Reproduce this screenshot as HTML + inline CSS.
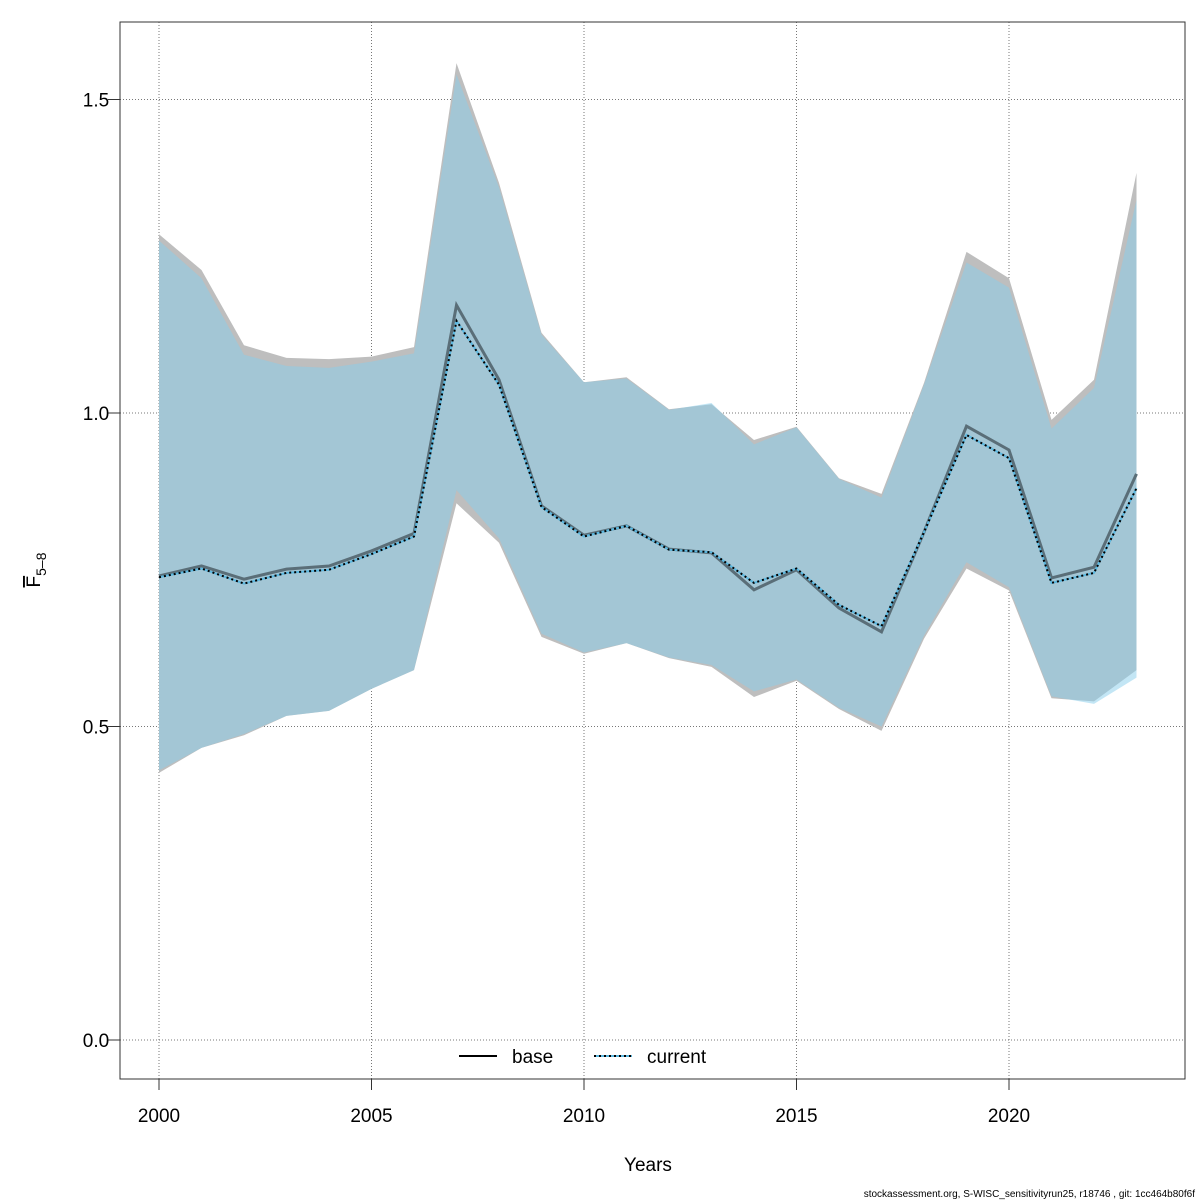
<!DOCTYPE html>
<html><head><meta charset="utf-8"><style>body{margin:0;background:#fff}svg{display:block;font-family:"Liberation Sans",sans-serif}</style></head>
<body>
<svg id="chart" width="1200" height="1200" viewBox="0 0 1200 1200"></svg>
<script>
const years=[2000,2001,2002,2003,2004,2005,2006,2007,2008,2009,2010,2011,2012,2013,2014,2015,2016,2017,2018,2019,2020,2021,2022,2023];
const baseMean=[0.740,0.756,0.735,0.751,0.756,0.780,0.808,1.172,1.053,0.852,0.805,0.820,0.783,0.777,0.718,0.750,0.689,0.651,0.810,0.979,0.941,0.737,0.754,0.903];
const baseUpper=[1.285,1.228,1.108,1.088,1.086,1.090,1.105,1.558,1.367,1.128,1.049,1.057,1.006,1.014,0.957,0.978,0.896,0.871,1.048,1.257,1.215,0.989,1.053,1.383];
const baseLower=[0.426,0.466,0.486,0.517,0.525,0.560,0.590,0.856,0.793,0.643,0.616,0.633,0.609,0.595,0.547,0.573,0.528,0.493,0.640,0.752,0.717,0.545,0.540,0.590];
const curMean=[0.738,0.752,0.728,0.745,0.750,0.775,0.803,1.147,1.045,0.850,0.803,0.820,0.782,0.778,0.729,0.752,0.694,0.660,0.810,0.965,0.928,0.729,0.745,0.880];
const curUpper=[1.275,1.215,1.093,1.075,1.072,1.082,1.095,1.540,1.360,1.125,1.049,1.055,1.005,1.016,0.950,0.977,0.895,0.865,1.045,1.240,1.200,0.975,1.040,1.340];
const curLower=[0.430,0.466,0.488,0.517,0.525,0.560,0.590,0.877,0.800,0.648,0.618,0.633,0.610,0.598,0.556,0.575,0.530,0.500,0.645,0.762,0.722,0.548,0.536,0.578];
const xTicks=[2000,2005,2010,2015,2020];
const yTicks=[0,0.5,1.0,1.5];
const yTickLabels=["0.0","0.5","1.0","1.5"];
const NS="http://www.w3.org/2000/svg";
const svg=document.getElementById('chart');
const X=y=>159+(y-2000)*42.5;
const Y=v=>1040-v*627;
function el(t,a,p){const e=document.createElementNS(NS,t);for(const k in a)e.setAttribute(k,a[k]);(p||svg).appendChild(e);return e;}
// grid
xTicks.forEach(t=>{const g=el('line',{x1:X(t),x2:X(t),y1:22,y2:1079,stroke:'#777','stroke-dasharray':'1,2','stroke-width':1});

});
yTicks.forEach(t=>{const g=el('line',{x1:120,x2:1185,y1:Y(t),y2:Y(t),stroke:'#777','stroke-dasharray':'1,2','stroke-width':1});

});
function band(u,l,fill,name){let d='M'+years.map((y,i)=>X(y)+','+Y(u[i])).join('L');
for(let i=years.length-1;i>=0;i--)d+='L'+X(years[i])+','+Y(l[i]);d+='Z';
const p=el('path',{d:d,fill:fill});

}
band(baseUpper,baseLower,'rgb(190,190,190)','base-ci-band');
band(curUpper,curLower,'rgba(135,206,235,0.5)','current-ci-band');
function line(v,attrs,name){const p=el('polyline',Object.assign({points:years.map((y,i)=>X(y)+','+Y(v[i])).join(' '),fill:'none'},attrs));

}
line(baseMean,{stroke:'#5a6e78','stroke-width':3},'base-line');
line(curMean,{stroke:'#5bb8e0','stroke-width':2},'current-line-under');
line(curMean,{stroke:'#000','stroke-width':2,'stroke-dasharray':'2,3'},'current-line');
// frame
const f=el('rect',{x:120,y:22,width:1065,height:1057,fill:'none',stroke:'#333'});


// ticks
xTicks.forEach(t=>{el('line',{x1:X(t),x2:X(t),y1:1079,y2:1090,stroke:'#333'});
const tx=el('text',{x:X(t),y:1122,'text-anchor':'middle','font-size':19});tx.textContent=t;

});
yTicks.forEach((t,i)=>{el('line',{x1:108,x2:120,y1:Y(t),y2:Y(t),stroke:'#333'});
const tx=el('text',{x:96,y:Y(t)+7,'text-anchor':'middle','font-size':19});tx.textContent=yTickLabels[i];

});
</script>
<svg style="position:absolute;left:0;top:0" width="1200" height="1200">
<text x="648" y="1171" text-anchor="middle" font-size="19" font-family="Liberation Sans">Years</text>
<text transform="translate(40,570) rotate(-90)" font-size="19" font-family="Liberation Sans" text-anchor="middle"><tspan style="text-decoration:overline">F</tspan><tspan font-size="14" dy="6">5–8</tspan></text>
<g>
<line x1="459" x2="497" y1="1056" y2="1056" stroke="#000" stroke-width="2"/>
<text x="512" y="1063" font-size="19" font-family="Liberation Sans">base</text>
<line x1="594" x2="632" y1="1056" y2="1056" stroke="#5bb8e0" stroke-width="2"/>
<line x1="594" x2="632" y1="1056" y2="1056" stroke="#000" stroke-width="2" stroke-dasharray="2,3"/>
<text x="647" y="1063" font-size="19" font-family="Liberation Sans">current</text>
</g>
<text x="1195" y="1197" text-anchor="end" font-size="10" font-family="Liberation Sans">stockassessment.org, S-WISC_sensitivityrun25, r18746 , git: 1cc464b80f6f</text>
</svg>
</body></html>
